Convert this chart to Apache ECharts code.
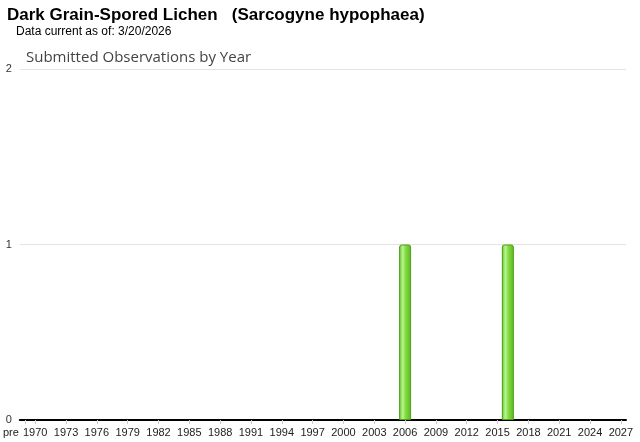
<!DOCTYPE html>
<html>
<head>
<meta charset="utf-8">
<script src="https://cdn.jsdelivr.net/npm/echarts@6/dist/echarts.min.js"></script>
<style>
html,body{margin:0;padding:0;background:#fff;}
#c{width:640px;height:442px;}
</style>
</head>
<body>
<div id="c"></div>
<script>
var titleText = "Dark Grain-Spored Lichen   (Sarcogyne hypophaea)";
var subText = "Data current as of: 3/20/2026";
var chartTitle = "Submitted Observations by Year";
var years = ["pre"];
for (var y = 1970; y <= 2027; y++) years.push(String(y));
var obsYears = ["2006", "2016"];
var obsCounts = [1, 1];
var yTicks = [0, 1, 2];

var values = years.map(function (c) {
  var i = obsYears.indexOf(c);
  return i >= 0 ? obsCounts[i] : null;
});

function showIdx(idx) { return idx === 0 || (idx - 1) % 3 === 0; }

var chart = echarts.init(document.getElementById('c'), null, {renderer: 'canvas'});
chart.setOption({
  animation: false,
  title: [
    {text: titleText, left: 2, top: 2, textStyle: {fontFamily: 'Liberation Sans, Arial', fontSize: 17, fontWeight: 'bold', color: '#000'}},
    {text: subText, left: 11, top: 21, textStyle: {fontFamily: 'Liberation Sans, Arial', fontSize: 12, fontWeight: 'normal', color: '#000'}},
    {text: chartTitle, left: 21, top: 45, textStyle: {fontFamily: 'Open Sans, sans-serif', fontSize: 15, fontWeight: 'normal', color: '#444'}}
  ],
  grid: {left: 18, right: 14, top: 69, bottom: 22, containLabel: false},
  xAxis: {
    type: 'category',
    data: years,
    axisLine: {lineStyle: {color: '#000', width: 2}},
    axisTick: {show: true, interval: function (idx) { return showIdx(idx); }, alignWithLabel: true, length: 4, lineStyle: {color: '#ccc'}},
    axisLabel: {
      interval: function (idx) { return showIdx(idx); }, margin: 7, color: '#222', fontFamily: 'Liberation Sans, Arial', fontSize: 11,
      formatter: function (v) { return v === 'pre' ? '{p|pre}' : v; },
      rich: {p: {padding: [0, 28, 0, 0], color: '#222', fontFamily: 'Liberation Sans, Arial', fontSize: 11}}
    }
  },
  yAxis: {
    type: 'value',
    min: yTicks[0], max: yTicks[yTicks.length - 1], interval: 1,
    axisLine: {show: false},
    axisTick: {show: false},
    axisLabel: {margin: 8, color: '#333', fontFamily: 'Liberation Sans, Arial', fontSize: 11},
    splitLine: {lineStyle: {color: '#e3e3e3', width: 1}}
  },
  series: [{
    type: 'bar',
    data: values,
    barWidth: 12,
    itemStyle: {
      borderColor: '#4f9e18',
      borderWidth: 1,
      borderRadius: [2, 2, 0, 0],
      color: new echarts.graphic.LinearGradient(0, 0, 1, 0, [
        {offset: 0, color: '#62bf28'},
        {offset: 0.3, color: '#b8f590'},
        {offset: 0.55, color: '#82dc40'},
        {offset: 1, color: '#5cb522'}
      ])
    }
  }]
});
</script>
</body>
</html>
